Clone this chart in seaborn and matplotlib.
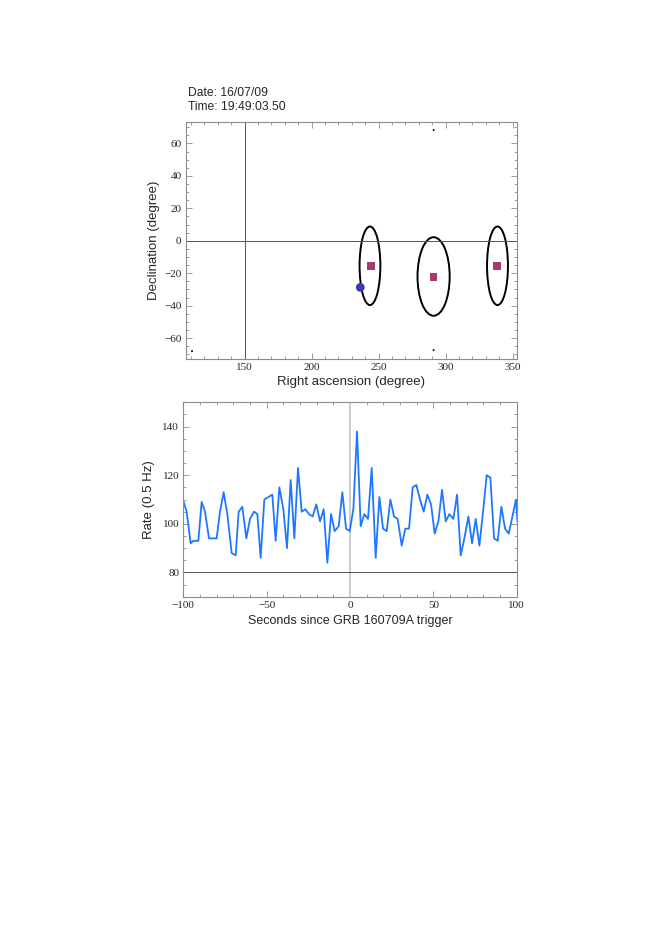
import numpy as np
import pandas as pd
import matplotlib
matplotlib.use("Agg")
import matplotlib.pyplot as plt
from matplotlib.patches import Ellipse
from matplotlib.ticker import MultipleLocator
import seaborn as sns

sns.set_theme(style="white")
plt.rcParams['font.family'] = ['Liberation Sans', 'DejaVu Sans']

# --- data: sky map ---
ellipse_ra = [243.5, 291.0, 338.7]
ellipse_dec = [-15.4, -22.0, -15.4]
ellipse_w = [15.5, 24.0, 15.6]
ellipse_h = [48.4, 48.4, 48.4]
square_ra = [244.4, 291.0, 338.2]
square_dec = [-15.6, -22.3, -15.6]
dot_ra = [236.3]
dot_dec = [-28.7]
tiny_ra = [110.7, 291.0, 291.0]
tiny_dec = [-68.0, 68.2, -67.4]

# --- data: rate light curve ---
seconds = [-100, -98, -95.6, -94, -91, -89, -87, -84.6, -80, -78, -75.8, -73.6, -71,
           -68.6, -66.8, -64.6, -62.2, -60, -57.6, -55.6, -53.6, -51.4, -49, -46.6,
           -44.6, -42.4, -40, -37.8, -35.6, -33.4, -31.2, -29, -26.8, -24.6, -22.4,
           -20.2, -18, -15.8, -13.6, -11.4, -9.2, -6.8, -4.6, -2.4, -0.2, 2, 4.2, 6.4,
           8.6, 10.8, 13, 15.4, 17.6, 19.8, 22, 24.2, 26.4, 28.6, 31, 33.2, 35.4, 37.6,
           39.8, 42, 44.2, 46.4, 48.6, 50.8, 53, 55.2, 57.4, 59.6, 62, 64.2, 66.4, 68.6,
           71, 73.2, 75.4, 77.6, 79.8, 82, 84.2, 86.4, 88.6, 90.8, 93, 95.2, 97.4, 99.6,
           100.4]
rate = [109.5, 105, 92, 93, 93, 109, 105, 94, 94, 105, 113, 104, 88,
        87, 105, 107, 94, 102, 105, 104, 86, 110, 111, 112,
        93, 115, 106, 90, 118, 94, 123, 105, 106, 104, 103,
        108, 101, 106, 84, 104, 97, 99, 113, 98, 97, 106, 138, 99,
        104, 102, 123, 86, 111, 98, 97, 110, 103, 102, 91, 98, 98, 115,
        116, 110, 105, 112, 108, 96, 101, 114, 101, 104, 102, 112, 87, 94,
        103, 92, 102, 91, 105, 120, 119, 94, 93, 107, 98, 96, 103, 110,
        101]

date_text = "Date: 16/07/09"
time_text = "Time: 19:49:03.50"

frame_col = "#8c8c8c"
tick_font = dict(family=['Liberation Serif', 'DejaVu Serif'], size=8)


def style_axes(ax, xmaj, xmin, ymaj, ymin):
    for s in ax.spines.values():
        s.set_color(frame_col)
        s.set_linewidth(0.8)
    ax.xaxis.set_major_locator(MultipleLocator(xmaj))
    ax.xaxis.set_minor_locator(MultipleLocator(xmin))
    ax.yaxis.set_major_locator(MultipleLocator(ymaj))
    ax.yaxis.set_minor_locator(MultipleLocator(ymin))
    ax.tick_params(which='both', direction='in', top=True, right=True,
                   bottom=True, left=True, color=frame_col, width=0.6)
    ax.tick_params(which='major', length=4, pad=3)
    ax.tick_params(which='minor', length=2)
    for lab in ax.get_xticklabels() + ax.get_yticklabels():
        lab.set_fontfamily(tick_font['family'])
        lab.set_fontsize(tick_font['size'])
    ax.grid(False)


fig = plt.figure(figsize=(6.54, 9.25), dpi=100)

# --- top panel: sky map ---
ax1 = fig.add_axes([0.284, 0.6116, 0.506, 0.2562])
ax1.axvline(150, color="#555555", lw=0.7)
ax1.axhline(0, color="#555555", lw=0.7)
for ra, dec, w, h in zip(ellipse_ra, ellipse_dec, ellipse_w, ellipse_h):
    ax1.add_patch(Ellipse((ra, dec), w, h, fill=False, edgecolor="black", lw=1.4))
sky = pd.DataFrame({"ra": square_ra, "dec": square_dec})
sns.scatterplot(data=sky, x="ra", y="dec", marker="s", s=30, color="#a23b72",
                edgecolor="none", ax=ax1, zorder=3)
sns.scatterplot(x=dot_ra, y=dot_dec, s=40, color="#3b3bab", edgecolor="none",
                ax=ax1, zorder=3)
sns.scatterplot(x=tiny_ra, y=tiny_dec, s=2, color="black", edgecolor="none",
                ax=ax1, zorder=3)
ax1.set_xlim(106, 353)
ax1.set_ylim(-73, 73)
ax1.set_xticks([150, 200, 250, 300, 350])
style_axes(ax1, 50, 10, 20, 5)
ax1.set_xlabel("Right ascension (degree)", fontsize=9.5, labelpad=2.5)
ax1.set_ylabel("Declination (degree)", fontsize=9.5, labelpad=3)

fig.text(188 / 654, 1 - 93 / 925, date_text, fontsize=8.7, va="center", ha="left")
fig.text(188 / 654, 1 - 107 / 925, time_text, fontsize=8.7, va="center", ha="left")

# --- bottom panel: light curve ---
ax2 = fig.add_axes([0.2803, 0.3549, 0.5098, 0.2102])
ax2.axvline(0, color="#cccccc", lw=1.4, zorder=1)
ax2.axhline(80, color="#555555", lw=0.7, zorder=1)
lc = pd.DataFrame({"t": seconds, "rate": rate})
sns.lineplot(data=lc, x="t", y="rate", color="#1f77ff", lw=1.3, ax=ax2,
             estimator=None, sort=False, zorder=2)
ax2.set_xlim(-100, 100)
ax2.set_ylim(70, 150)
ax2.set_yticks([80, 100, 120, 140])
style_axes(ax2, 50, 10, 20, 5)
ax2.set_xlabel("Seconds since GRB 160709A trigger", fontsize=9, labelpad=4)
ax2.set_ylabel("Rate (0.5 Hz)", fontsize=9.5, labelpad=5)

fig.savefig("out.png", dpi=100, facecolor="white")
